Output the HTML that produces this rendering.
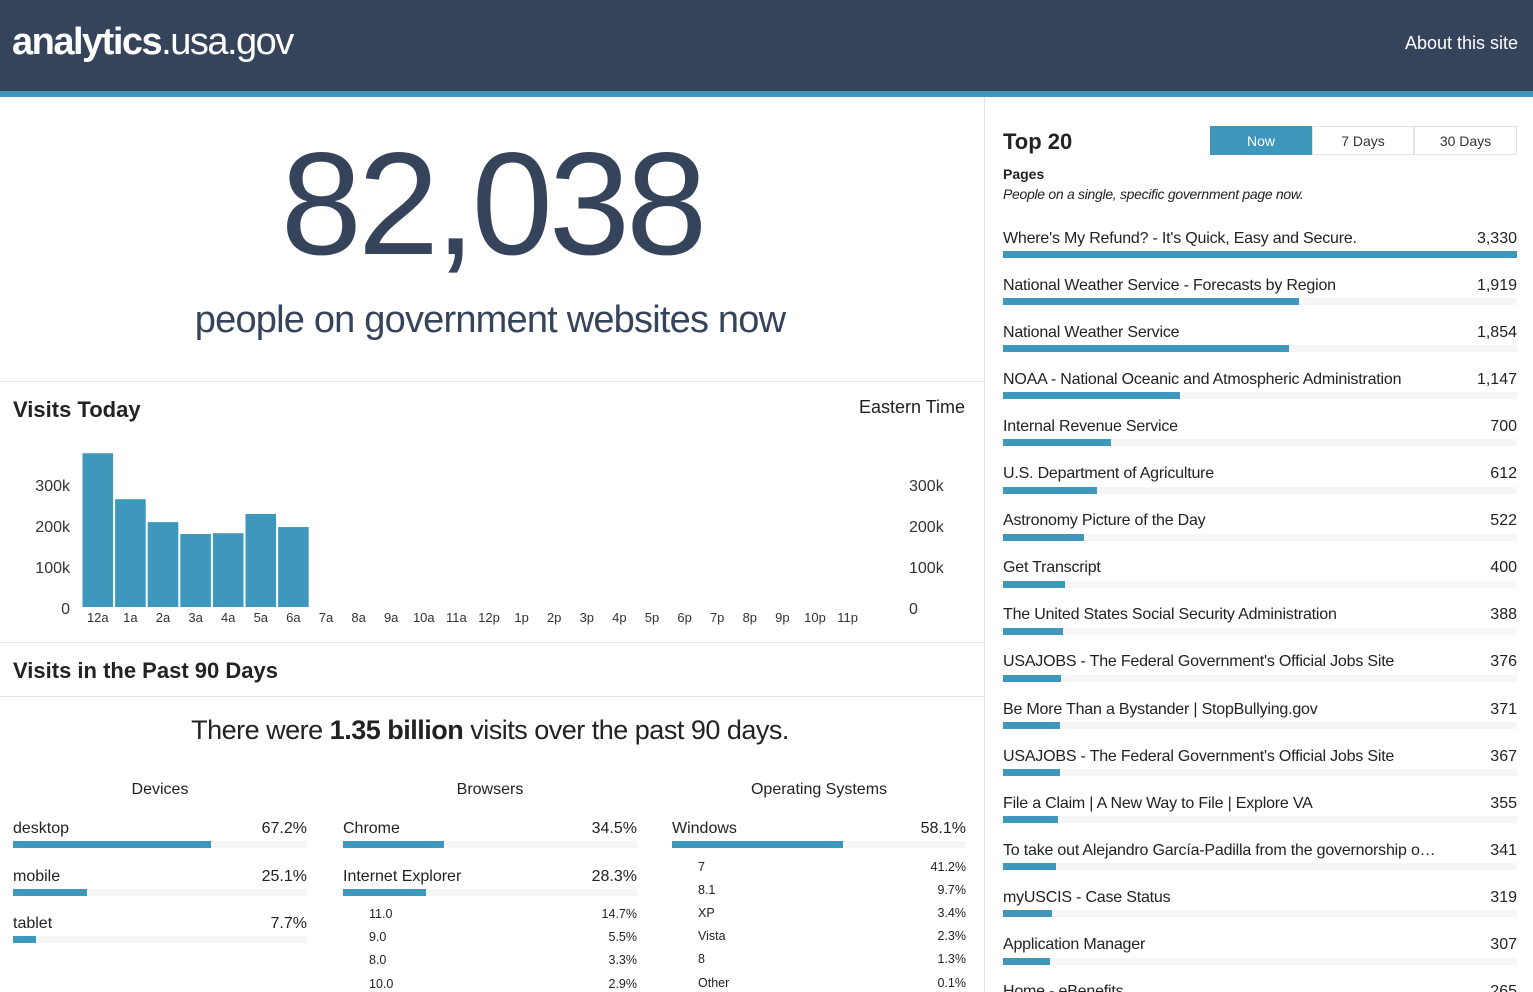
<!DOCTYPE html>
<html style="width:1533px;height:992px;overflow:hidden"><head><meta charset="utf-8">
<style>
*{box-sizing:border-box;margin:0;padding:0}
body{width:1533px;height:992px;overflow:hidden;background:#fff;font-family:"Liberation Sans",sans-serif;color:#222;position:relative}
.abs{position:absolute;white-space:nowrap}
#header{position:absolute;left:0;top:0;width:1533px;height:91px;background:#36445b}
#stripe{position:absolute;left:0;top:91px;width:1533px;height:6px;background:#3e98bb}
.hr{position:absolute;height:1px;background:#e4e4e4}
</style></head><body>
<div id="header">
  <div class="abs" style="left:12px;top:21px;font-size:38px;color:#fff;letter-spacing:-1.5px"><b>analytics</b>.usa.gov</div>
  <div class="abs" style="right:15px;top:33px;font-size:18px;color:#fff">About this site</div>
</div>
<div id="stripe"></div>
<div style="position:absolute;left:984px;top:97px;width:1px;height:895px;background:#e4e4e4"></div>

<div class="abs" style="left:0;width:984px;text-align:center;top:120px;font-size:146px;color:#36445b;letter-spacing:-4px">82,038</div>
<div class="abs" style="left:0;width:980px;text-align:center;top:299px;font-size:38px;color:#36445b;letter-spacing:-0.8px">people on government websites now</div>

<div class="hr" style="left:0;top:381px;width:984px"></div>
<div class="abs" style="left:13px;top:397px;font-size:22px;font-weight:bold">Visits Today</div>
<div class="abs" style="right:568px;top:397px;font-size:18px">Eastern Time</div>
<svg id="chart" style="position:absolute;left:0;top:430px" width="984" height="210"></svg>

<div class="hr" style="left:0;top:642px;width:984px"></div>
<div class="abs" style="left:13px;top:658px;font-size:22px;font-weight:bold">Visits in the Past 90 Days</div>
<div class="hr" style="left:0;top:696px;width:984px"></div>
<div class="abs" style="left:0;width:980px;text-align:center;top:715px;font-size:27px;letter-spacing:-0.5px">There were <b>1.35 billion</b> visits over the past 90 days.</div>

<div id="bottom"></div>
<div id="right"></div>

<script>
const hours=["12a","1a","2a","3a","4a","5a","6a","7a","8a","9a","10a","11a","12p","1p","2p","3p","4p","5p","6p","7p","8p","9p","10p","11p"];
const visits=[375000,263000,207000,178000,180000,227000,195000];
const yTicks=[0,100000,200000,300000];
const yTickLabels=["0","100k","200k","300k"];

const deviceNames=["desktop","mobile","tablet"];
const deviceVals=[67.2,25.1,7.7];
const browserNames=["Chrome","Internet Explorer"];
const browserVals=[34.5,28.3];
const ieNames=["11.0","9.0","8.0","10.0"];
const ieVals=[14.7,5.5,3.3,2.9];
const osNames=["Windows"];
const osVals=[58.1];
const winNames=["7","8.1","XP","Vista","8","Other"];
const winVals=[41.2,9.7,3.4,2.3,1.3,0.1];

const pageNames=["Where's My Refund? - It's Quick, Easy and Secure.","National Weather Service - Forecasts by Region","National Weather Service","NOAA - National Oceanic and Atmospheric Administration","Internal Revenue Service","U.S. Department of Agriculture","Astronomy Picture of the Day","Get Transcript","The United States Social Security Administration","USAJOBS - The Federal Government's Official Jobs Site","Be More Than a Bystander | StopBullying.gov","USAJOBS - The Federal Government's Official Jobs Site","File a Claim | A New Way to File | Explore VA","To take out Alejandro García-Padilla from the governorship o…","myUSCIS - Case Status","Application Manager","Home - eBenefits"];
const pageVals=[3330,1919,1854,1147,700,612,522,400,388,376,371,367,355,341,319,307,265];

const svg=document.getElementById('chart');
const NS='http://www.w3.org/2000/svg';
const y0=177, pxPer=41/100000;
const yScale=v=>y0-v*pxPer;
const step=32.6, x0=81.5;
const xScale=i=>x0+i*step;
function mk(t,a){const e=document.createElementNS(NS,t);for(const k in a)e.setAttribute(k,a[k]);svg.appendChild(e);return e;}
visits.forEach((v,i)=>{
  const r=mk('rect',{x:xScale(i)+1,y:yScale(v),width:step-2,height:y0-yScale(v),fill:'#3e98bb'});
  
  
});
hours.forEach((h,i)=>{
  const t=mk('text',{x:xScale(i)+step/2,y:y0+15,'text-anchor':'middle','font-size':13,fill:'#333','font-family':'Liberation Sans'});
  t.textContent=h;
  
  
});
yTicks.forEach((v,i)=>{
  const a=mk('text',{x:70,y:yScale(v)+7,'text-anchor':'end','font-size':16,fill:'#333','font-family':'Liberation Sans'});
  a.textContent=yTickLabels[i];
  
  
  const b=mk('text',{x:909,y:yScale(v)+7,'text-anchor':'start','font-size':16,fill:'#333','font-family':'Liberation Sans'});
  b.textContent=yTickLabels[i];
  
  
});

const bottom=document.getElementById('bottom');
function div(parent,style,text,name,inter){const d=document.createElement('div');d.className='abs';d.style.cssText=style;if(text!==undefined)d.textContent=text;
  
  
  parent.appendChild(d);return d;}
function column(x,title,names,vals,subNames,subVals){
  const w=294;
  div(bottom,`left:${x}px;width:${w}px;text-align:center;top:781px;font-size:16px`,title,'column-title');
  names.forEach((n,i)=>{
    const t=820+i*47.5;
    div(bottom,`left:${x}px;top:${t}px;font-size:16px`,n,'row-label');
    div(bottom,`left:${x}px;width:${w}px;text-align:right;top:${t}px;font-size:16px`,vals[i].toFixed(1)+'%','row-value');
    div(bottom,`left:${x}px;top:${t+21}px;width:${w}px;height:7px;background:#f6f6f6`,undefined,'bar-track');
    div(bottom,`left:${x}px;top:${t+21}px;width:${w*vals[i]/100}px;height:7px;background:#3e98bb`,undefined,'bar-'+n);
  });
  if(subNames){
    const base=820+names.length*47.5-8;
    subNames.forEach((n,i)=>{
      const t=base+i*23.2;
      div(bottom,`left:${x+26}px;top:${t}px;font-size:12.5px`,n,'sub-row-label');
      div(bottom,`left:${x}px;width:${w}px;text-align:right;top:${t}px;font-size:12.5px`,subVals[i].toFixed(1)+'%','sub-row-value');
    });
  }
}
column(13,"Devices",deviceNames,deviceVals);
column(343,"Browsers",browserNames,browserVals,ieNames,ieVals);
column(672,"Operating Systems",osNames,osVals,winNames,winVals);

const right=document.getElementById('right');
function rdiv(style,text,name,inter){const d=document.createElement('div');d.className='abs';d.style.cssText=style;if(text!==undefined)d.textContent=text;
  
  
  right.appendChild(d);return d;}
rdiv('left:1003px;top:129px;font-size:22px;font-weight:bold','Top 20','top20-title');
const tabs=["Now","7 Days","30 Days"];
tabs.forEach((t,i)=>{
  rdiv(`left:${1210+i*102}px;top:126px;width:${i==2?103:102}px;height:29px;line-height:28px;text-align:center;font-size:14px;border:1px solid #e2e2e2;${i==0?'background:#3e98bb;color:#fff;border-color:#3e98bb':'color:#333'}`,t,'tab-'+t.toLowerCase().replace(' ','-'),true);
});
rdiv('left:1003px;top:166px;font-size:14px;font-weight:bold','Pages','pages-label');
rdiv('left:1003px;top:186px;font-size:14px;font-style:italic;letter-spacing:-0.3px','People on a single, specific government page now.','pages-description');
const maxV=pageVals[0], W=514;
pageNames.forEach((n,i)=>{
  const t=229.5+i*47.1;
  rdiv(`left:1003px;top:${t}px;font-size:16px;letter-spacing:-0.2px`,n,'page-link',true);
  rdiv(`left:1003px;width:${W}px;text-align:right;top:${t}px;font-size:16px`,pageVals[i].toLocaleString('en-US'),'page-count');
  rdiv(`left:1003px;top:${t+21.5}px;width:${W}px;height:7px;background:#f6f6f6`,undefined,'bar-track');
  rdiv(`left:1003px;top:${t+21.5}px;width:${W*pageVals[i]/maxV}px;height:7px;background:#3e98bb`,undefined,'page-bar');
});
</script>
</body></html>
